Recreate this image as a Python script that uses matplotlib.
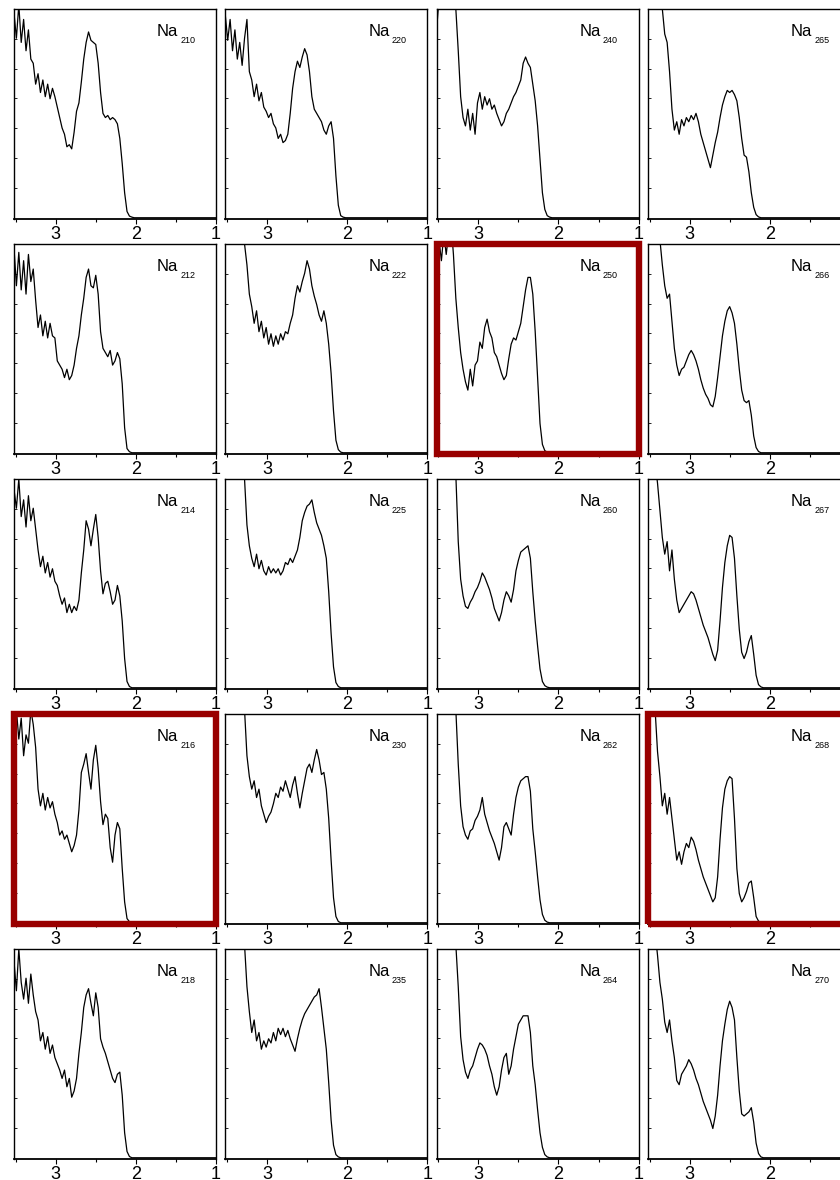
import matplotlib
matplotlib.use("Agg")
import matplotlib.pyplot as plt
from matplotlib.patches import Rectangle
from matplotlib.ticker import FixedLocator

plt.rcParams["font.family"] = ["Liberation Sans", "DejaVu Sans"]

# photon energy grid (eV)
energy = [
    3.52, 3.49, 3.46, 3.43, 3.40, 3.37, 3.34, 3.31, 3.28, 3.25,
    3.22, 3.19, 3.16, 3.13, 3.10, 3.07, 3.04, 3.01, 2.98, 2.95,
    2.92, 2.89, 2.86, 2.83, 2.80, 2.77, 2.74, 2.71, 2.68, 2.65,
    2.62, 2.59, 2.56, 2.53, 2.50, 2.47, 2.44, 2.41, 2.38, 2.35,
    2.32, 2.29, 2.26, 2.23, 2.20, 2.17, 2.14, 2.11, 2.08, 2.05,
    2.02, 1.99, 1.96, 1.00]

na210 = [
    0.98, 0.86, 1.02, 0.84, 0.95, 0.80, 0.90, 0.76, 0.74, 0.64,
    0.69, 0.60, 0.66, 0.58, 0.64, 0.57, 0.62, 0.58, 0.53, 0.48,
    0.43, 0.40, 0.34, 0.35, 0.33, 0.41, 0.51, 0.55, 0.65, 0.76,
    0.84, 0.89, 0.85, 0.84, 0.83, 0.74, 0.60, 0.50, 0.48, 0.49,
    0.47, 0.48, 0.47, 0.45, 0.38, 0.26, 0.12, 0.03, 0.008, 0.003,
    0.0, 0.0, 0.0, 0.0]
na220 = [
    0.97, 0.85, 0.95, 0.80, 0.90, 0.76, 0.84, 0.73, 0.86, 0.95,
    0.70, 0.66, 0.58, 0.64, 0.56, 0.60, 0.53, 0.51, 0.48, 0.50,
    0.45, 0.43, 0.38, 0.40, 0.36, 0.37, 0.40, 0.50, 0.62, 0.70,
    0.75, 0.72, 0.77, 0.81, 0.78, 0.70, 0.58, 0.52, 0.50, 0.48,
    0.46, 0.42, 0.40, 0.44, 0.46, 0.38, 0.20, 0.06, 0.01, 0.003,
    0.0, 0.0, 0.0, 0.0]
na240 = [
    0.90, 1.05, 1.10, 1.10, 1.10, 1.10, 1.10, 1.05, 1.00, 0.80,
    0.58, 0.48, 0.44, 0.52, 0.42, 0.50, 0.40, 0.55, 0.60, 0.52,
    0.58, 0.54, 0.57, 0.52, 0.54, 0.50, 0.47, 0.44, 0.46, 0.50,
    0.52, 0.55, 0.58, 0.60, 0.63, 0.66, 0.74, 0.77, 0.74, 0.72,
    0.64, 0.56, 0.44, 0.28, 0.12, 0.04, 0.01, 0.003, 0.0, 0.0,
    0.0, 0.0, 0.0, 0.0]
na265 = [
    1.70, 1.60, 1.50, 1.40, 1.30, 1.15, 1.00, 0.88, 0.84, 0.70,
    0.52, 0.42, 0.46, 0.40, 0.47, 0.44, 0.48, 0.46, 0.49, 0.47,
    0.50, 0.46, 0.40, 0.36, 0.32, 0.28, 0.24, 0.30, 0.36, 0.41,
    0.48, 0.54, 0.58, 0.61, 0.60, 0.61, 0.59, 0.56, 0.48, 0.38,
    0.30, 0.29, 0.22, 0.12, 0.05, 0.015, 0.004, 0.0, 0.0, 0.0,
    0.0, 0.0, 0.0, 0.0]

na212 = [
    0.98, 0.80, 0.96, 0.78, 0.92, 0.76, 0.95, 0.82, 0.88, 0.73,
    0.60, 0.66, 0.56, 0.63, 0.55, 0.62, 0.56, 0.55, 0.44, 0.42,
    0.40, 0.36, 0.40, 0.35, 0.37, 0.42, 0.50, 0.56, 0.66, 0.74,
    0.84, 0.88, 0.80, 0.79, 0.85, 0.76, 0.58, 0.50, 0.48, 0.46,
    0.49, 0.42, 0.44, 0.48, 0.45, 0.33, 0.12, 0.02, 0.005, 0.0,
    0.0, 0.0, 0.0, 0.0]
na222 = [
    1.50, 1.45, 1.40, 1.35, 1.30, 1.25, 1.20, 1.10, 1.00, 0.90,
    0.76, 0.70, 0.62, 0.68, 0.58, 0.63, 0.55, 0.60, 0.52, 0.57,
    0.51, 0.56, 0.52, 0.57, 0.54, 0.58, 0.57, 0.62, 0.66, 0.74,
    0.80, 0.77, 0.82, 0.86, 0.92, 0.88, 0.80, 0.75, 0.71, 0.66,
    0.63, 0.68, 0.62, 0.52, 0.38, 0.20, 0.06, 0.015, 0.003, 0.0,
    0.0, 0.0, 0.0, 0.0]
na250 = [
    0.90, 1.02, 0.92, 1.05, 0.95, 1.05, 1.10, 0.95, 0.74, 0.60,
    0.48, 0.40, 0.34, 0.30, 0.40, 0.32, 0.42, 0.44, 0.53, 0.50,
    0.60, 0.64, 0.58, 0.55, 0.48, 0.46, 0.42, 0.38, 0.35, 0.37,
    0.45, 0.52, 0.55, 0.54, 0.58, 0.62, 0.70, 0.78, 0.84, 0.84,
    0.76, 0.58, 0.36, 0.14, 0.04, 0.01, 0.003, 0.0, 0.0, 0.0,
    0.0, 0.0, 0.0, 0.0]
na266 = [
    1.60, 1.50, 1.40, 1.30, 1.20, 1.02, 0.90, 0.80, 0.74, 0.76,
    0.63, 0.50, 0.42, 0.37, 0.40, 0.41, 0.44, 0.47, 0.49, 0.47,
    0.44, 0.40, 0.35, 0.31, 0.28, 0.26, 0.23, 0.22, 0.27, 0.36,
    0.46, 0.56, 0.63, 0.68, 0.70, 0.67, 0.62, 0.52, 0.40, 0.30,
    0.25, 0.24, 0.25, 0.18, 0.08, 0.025, 0.006, 0.0, 0.0, 0.0,
    0.0, 0.0, 0.0, 0.0]

na214 = [
    0.95, 0.86, 1.00, 0.82, 0.90, 0.77, 0.92, 0.80, 0.86, 0.76,
    0.66, 0.58, 0.63, 0.55, 0.60, 0.53, 0.57, 0.51, 0.49, 0.44,
    0.40, 0.43, 0.36, 0.40, 0.36, 0.39, 0.37, 0.42, 0.55, 0.66,
    0.80, 0.76, 0.68, 0.76, 0.83, 0.72, 0.56, 0.45, 0.50, 0.51,
    0.46, 0.40, 0.42, 0.49, 0.44, 0.32, 0.14, 0.03, 0.006, 0.0,
    0.0, 0.0, 0.0, 0.0]
na225 = [
    1.50, 1.45, 1.40, 1.35, 1.30, 1.25, 1.20, 1.10, 1.00, 0.78,
    0.68, 0.62, 0.58, 0.64, 0.57, 0.61, 0.56, 0.54, 0.58, 0.55,
    0.57, 0.55, 0.57, 0.54, 0.56, 0.60, 0.59, 0.62, 0.60, 0.63,
    0.66, 0.72, 0.80, 0.84, 0.87, 0.88, 0.90, 0.84, 0.79, 0.76,
    0.73, 0.68, 0.62, 0.46, 0.26, 0.10, 0.025, 0.006, 0.0, 0.0,
    0.0, 0.0, 0.0, 0.0]
na260 = [
    1.60, 1.55, 1.50, 1.45, 1.40, 1.35, 1.25, 1.15, 1.02, 0.70,
    0.52, 0.44, 0.39, 0.38, 0.41, 0.43, 0.46, 0.48, 0.51, 0.55,
    0.53, 0.50, 0.47, 0.43, 0.38, 0.35, 0.32, 0.36, 0.42, 0.46,
    0.44, 0.41, 0.47, 0.56, 0.61, 0.65, 0.66, 0.67, 0.68, 0.62,
    0.46, 0.32, 0.20, 0.09, 0.03, 0.01, 0.003, 0.0, 0.0, 0.0,
    0.0, 0.0, 0.0, 0.0]
na267 = [
    1.50, 1.35, 1.20, 1.08, 0.98, 0.85, 0.72, 0.64, 0.70, 0.56,
    0.66, 0.52, 0.42, 0.36, 0.38, 0.40, 0.42, 0.44, 0.46, 0.45,
    0.42, 0.38, 0.34, 0.30, 0.27, 0.24, 0.20, 0.16, 0.13, 0.18,
    0.32, 0.48, 0.60, 0.68, 0.73, 0.72, 0.62, 0.44, 0.28, 0.17,
    0.14, 0.17, 0.22, 0.25, 0.16, 0.06, 0.015, 0.004, 0.0, 0.0,
    0.0, 0.0, 0.0, 0.0]

na216 = [
    0.92, 1.02, 0.88, 0.98, 0.80, 0.90, 0.86, 1.02, 0.95, 0.84,
    0.64, 0.56, 0.62, 0.54, 0.60, 0.55, 0.58, 0.52, 0.48, 0.42,
    0.44, 0.40, 0.42, 0.38, 0.34, 0.37, 0.42, 0.54, 0.72, 0.76,
    0.81, 0.72, 0.64, 0.78, 0.85, 0.74, 0.58, 0.47, 0.52, 0.50,
    0.36, 0.29, 0.42, 0.48, 0.45, 0.26, 0.10, 0.02, 0.005, 0.0,
    0.0, 0.0, 0.0, 0.0]
na230 = [
    1.50, 1.45, 1.40, 1.35, 1.30, 1.25, 1.20, 1.12, 1.02, 0.80,
    0.70, 0.64, 0.68, 0.60, 0.64, 0.56, 0.52, 0.48, 0.51, 0.53,
    0.57, 0.62, 0.60, 0.65, 0.63, 0.68, 0.64, 0.60, 0.66, 0.70,
    0.62, 0.55, 0.62, 0.68, 0.74, 0.76, 0.72, 0.78, 0.83, 0.78,
    0.71, 0.72, 0.64, 0.50, 0.30, 0.12, 0.03, 0.006, 0.0, 0.0,
    0.0, 0.0, 0.0, 0.0]
na262 = [
    1.60, 1.55, 1.50, 1.45, 1.40, 1.35, 1.25, 1.15, 1.02, 0.76,
    0.56, 0.46, 0.42, 0.40, 0.44, 0.45, 0.49, 0.51, 0.54, 0.60,
    0.52, 0.48, 0.44, 0.41, 0.38, 0.34, 0.30, 0.36, 0.46, 0.48,
    0.45, 0.42, 0.52, 0.60, 0.65, 0.68, 0.69, 0.70, 0.70, 0.63,
    0.45, 0.34, 0.22, 0.11, 0.04, 0.012, 0.003, 0.0, 0.0, 0.0,
    0.0, 0.0, 0.0, 0.0]
na268 = [
    1.60, 1.45, 1.25, 1.02, 0.82, 0.70, 0.56, 0.62, 0.52, 0.60,
    0.50, 0.40, 0.30, 0.34, 0.28, 0.34, 0.38, 0.36, 0.41, 0.39,
    0.35, 0.30, 0.26, 0.22, 0.19, 0.16, 0.13, 0.10, 0.12, 0.22,
    0.40, 0.55, 0.64, 0.68, 0.70, 0.69, 0.50, 0.26, 0.14, 0.10,
    0.12, 0.15, 0.19, 0.20, 0.12, 0.03, 0.008, 0.002, 0.0, 0.0,
    0.0, 0.0, 0.0, 0.0]

na218 = [
    0.94, 0.80, 1.00, 0.84, 0.76, 0.86, 0.74, 0.88, 0.78, 0.70,
    0.66, 0.56, 0.60, 0.52, 0.58, 0.50, 0.54, 0.48, 0.45, 0.42,
    0.38, 0.42, 0.34, 0.38, 0.29, 0.32, 0.38, 0.50, 0.60, 0.72,
    0.78, 0.81, 0.74, 0.68, 0.79, 0.72, 0.57, 0.53, 0.50, 0.46,
    0.42, 0.38, 0.36, 0.40, 0.41, 0.30, 0.12, 0.03, 0.006, 0.0,
    0.0, 0.0, 0.0, 0.0]
na235 = [
    1.50, 1.45, 1.40, 1.35, 1.30, 1.25, 1.20, 1.12, 1.02, 0.82,
    0.70, 0.60, 0.66, 0.56, 0.60, 0.52, 0.56, 0.53, 0.57, 0.55,
    0.60, 0.56, 0.62, 0.59, 0.62, 0.58, 0.61, 0.57, 0.54, 0.51,
    0.57, 0.62, 0.66, 0.69, 0.71, 0.73, 0.75, 0.77, 0.78, 0.81,
    0.72, 0.62, 0.52, 0.36, 0.18, 0.06, 0.015, 0.004, 0.0, 0.0,
    0.0, 0.0, 0.0, 0.0]
na264 = [
    1.60, 1.55, 1.50, 1.45, 1.40, 1.35, 1.25, 1.15, 1.02, 0.82,
    0.58, 0.47, 0.41, 0.38, 0.42, 0.44, 0.48, 0.52, 0.55, 0.54,
    0.52, 0.49, 0.44, 0.40, 0.34, 0.30, 0.34, 0.42, 0.48, 0.50,
    0.40, 0.44, 0.52, 0.58, 0.64, 0.66, 0.68, 0.68, 0.68, 0.60,
    0.44, 0.35, 0.23, 0.12, 0.05, 0.015, 0.004, 0.0, 0.0, 0.0,
    0.0, 0.0, 0.0, 0.0]
na270 = [
    1.50, 1.35, 1.20, 1.08, 0.97, 0.84, 0.76, 0.65, 0.60, 0.66,
    0.56, 0.48, 0.37, 0.35, 0.40, 0.42, 0.44, 0.47, 0.45, 0.42,
    0.38, 0.35, 0.31, 0.27, 0.24, 0.21, 0.18, 0.14, 0.20, 0.30,
    0.44, 0.56, 0.64, 0.71, 0.75, 0.72, 0.66, 0.48, 0.32, 0.21,
    0.20, 0.21, 0.22, 0.24, 0.17, 0.07, 0.02, 0.004, 0.0, 0.0,
    0.0, 0.0, 0.0, 0.0]

# panel layout: rows top to bottom, columns left to right
panel_labels = [
    ["210", "220", "240", "265"],
    ["212", "222", "250", "266"],
    ["214", "225", "260", "267"],
    ["216", "230", "262", "268"],
    ["218", "235", "264", "270"],
]
spectra = {
    "210": na210, "220": na220, "240": na240, "265": na265,
    "212": na212, "222": na222, "250": na250, "266": na266,
    "214": na214, "225": na225, "260": na260, "267": na267,
    "216": na216, "230": na230, "262": na262, "268": na268,
    "218": na218, "235": na235, "264": na264, "270": na270,
}
highlighted = ["250", "216", "268"]

x_major = [3, 2, 1]
x_minor = [3.5, 2.5, 1.5]

W, H = 840, 1180
fig = plt.figure(figsize=(W / 100, H / 100), dpi=100)

ax_w, ax_h = 202, 210
for r, row in enumerate(panel_labels):
    for c, label in enumerate(row):
        left = 14 + 211.3 * c
        bottom = 219 + 235 * r
        ax = fig.add_axes([left / W, 1 - bottom / H, ax_w / W, ax_h / H])
        ax.plot(energy, spectra[label], color="black", lw=0.9)
        ax.set_xlim(3.52, 1.0)
        ax.set_ylim(-0.006, 1.0)

        ax.xaxis.set_major_locator(FixedLocator(x_major))
        ax.xaxis.set_minor_locator(FixedLocator(x_minor))
        ax.set_xticklabels([str(v) for v in x_major])
        ax.yaxis.set_major_locator(FixedLocator([k / 7 for k in range(1, 7)]))
        ax.set_yticklabels([])
        ax.tick_params(axis="x", which="major", direction="out", length=3.5,
                       width=0.8, pad=1.5, labelsize=13)
        ax.tick_params(axis="x", which="minor", direction="out", length=2.5,
                       width=0.8)
        ax.tick_params(axis="y", which="major", direction="in", length=2,
                       width=0.6)
        for s in ax.spines.values():
            s.set_linewidth(1.0)
        ax.spines["bottom"].set_linewidth(1.3)

        ax.text(0.708, 0.871, "Na", transform=ax.transAxes, fontsize=12,
                ha="left", va="baseline")
        ax.text(0.823, 0.838, label, transform=ax.transAxes, fontsize=6.5,
                ha="left", va="baseline")

        if label in highlighted:
            ax.add_patch(Rectangle((0, 0), 1, 1, transform=ax.transAxes,
                                   fill=False, edgecolor="#990000", lw=4.6,
                                   clip_on=False, zorder=5))

fig.savefig("out.png", dpi=100)
